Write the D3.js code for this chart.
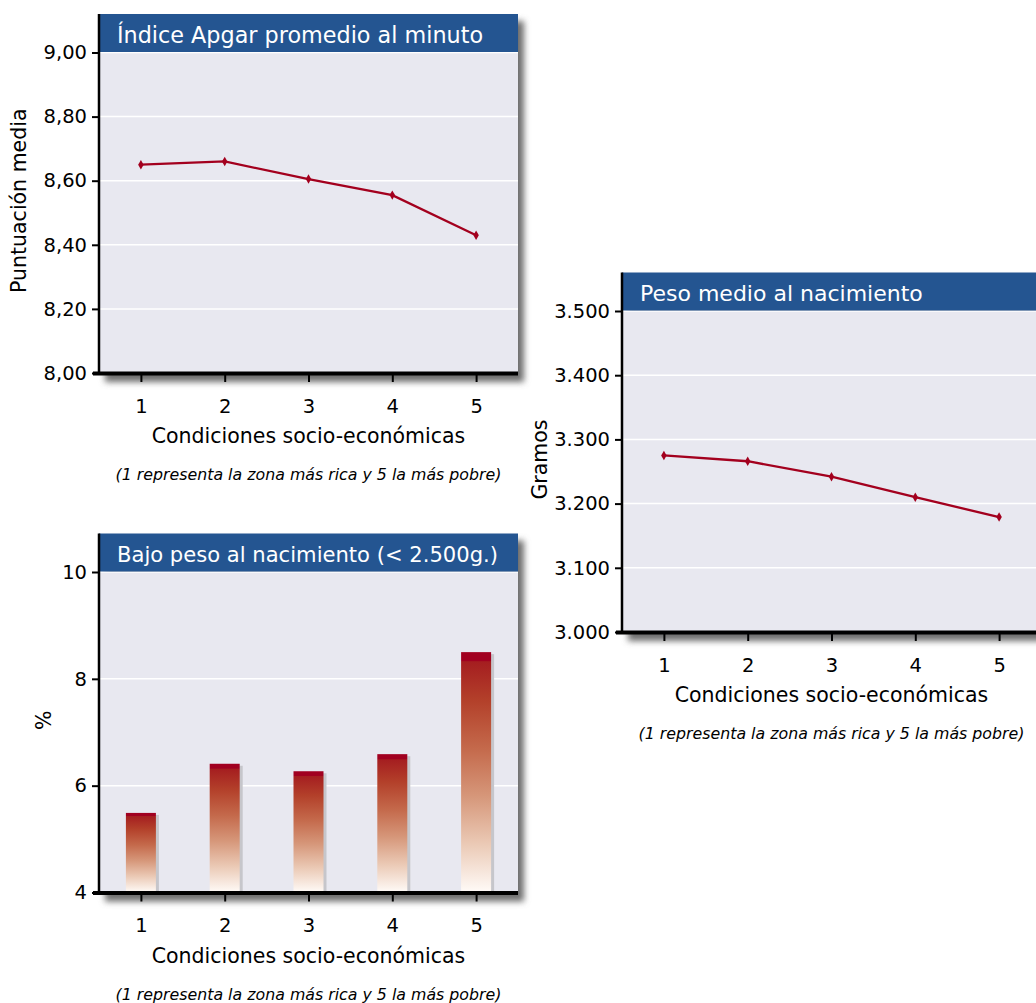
<!DOCTYPE html>
<html>
<head>
<meta charset="utf-8">
<script src="https://cdn.jsdelivr.net/npm/d3@7"></script>
<style>
  html, body { margin: 0; padding: 0; background: #ffffff; }
  svg { display: block; font-family: "DejaVu Sans", "Open Sans", sans-serif; }
</style>
</head>
<body>
<svg id="chart" width="1036" height="1003"></svg>
<script>
// Socio-economic zones (1 = richest, 5 = poorest)
const categories = [1, 2, 3, 4, 5];

// Apgar index at one minute (mean score)
const apgarValues = [8.65, 8.66, 8.605, 8.555, 8.43];
const apgarTicks = [8.0, 8.2, 8.4, 8.6, 8.8, 9.0];

// Mean birth weight (grams)
const weightValues = [3275, 3266, 3242, 3210, 3179];
const weightTicks = [3000, 3100, 3200, 3300, 3400, 3500];

// Low birth weight (< 2.500 g), percentage
const lowWeightValues = [5.49, 6.41, 6.27, 6.59, 8.5];
const lowWeightTicks = [4, 6, 8, 10];

const titles = ["Índice Apgar promedio al minuto", "Peso medio al nacimiento", "Bajo peso al nacimiento (< 2.500g.)"];
const yLabels = ["Puntuación media", "Gramos", "%"];
const xTitle = "Condiciones socio-económicas";
const xNote = "(1 representa la zona más rica y 5 la más pobre)";

const FONT = "DejaVu Sans, Open Sans, sans-serif";

const es = d3.formatLocale({ decimal: ",", thousands: ".", grouping: [3], currency: ["", " €"] });
const fmtDec = es.format(",.2f");
const fmtInt = es.format(",d");
const fmtPlain = es.format("d");

const svg = d3.select("#chart");
const defs = svg.append("defs");

defs.append("filter").attr("id", "panelShadow")
  .attr("x", "-10%").attr("y", "-10%").attr("width", "130%").attr("height", "130%")
  .append("feGaussianBlur").attr("stdDeviation", 3);

const grad = defs.append("linearGradient").attr("id", "barFill")
  .attr("x1", 0).attr("y1", 0).attr("x2", 0).attr("y2", 1);
[
  [0, "#a10020"], [0.035, "#a10020"], [0.04, "#a51e20"], [0.2, "#b3402a"],
  [0.4, "#c4694b"], [0.6, "#d6977a"], [0.8, "#ebcab6"], [1, "#fffbf8"]
].forEach(([o, c]) => grad.append("stop").attr("offset", o).attr("stop-color", c));

const BLUE = "#245591";
const PLOT_BG = "#e8e8f0";
const LINE_RED = "#a3001e";

function drawPanel(cfg) {
  const g = svg.append("g");
  const { left, right, top, bottom } = cfg;
  const headerTop = top - 38.5;

  const x = d3.scaleLinear().domain([0.5, 5.5]).range([left, right]);
  const y = d3.scaleLinear().domain(cfg.domain).range([bottom, top]);

  // drop shadow behind the whole panel
  g.append("rect")
    .attr("x", left + 6).attr("y", headerTop + 7)
    .attr("width", right - left).attr("height", bottom - headerTop + 2)
    .attr("fill", "#6e6e6e").attr("filter", "url(#panelShadow)");

  // plot background
  g.append("rect")
    .attr("x", left).attr("y", top)
    .attr("width", right - left).attr("height", bottom - top)
    .attr("fill", PLOT_BG);

  // horizontal grid
  g.append("g").selectAll("line")
    .data(cfg.ticks.filter(t => t !== cfg.domain[0]))
    .join("line")
    .attr("x1", left).attr("x2", right)
    .attr("y1", d => y(d)).attr("y2", d => y(d))
    .attr("stroke", "#ffffff").attr("stroke-width", 1.5);

  // title header
  g.append("rect")
    .attr("x", left).attr("y", headerTop)
    .attr("width", right - left).attr("height", top - headerTop - 0.5)
    .attr("fill", BLUE);
  g.append("text")
    .attr("x", left + 18).attr("y", top - 10)
    .attr("fill", "#ffffff").attr("font-size", cfg.titleSize)
    .text(cfg.title);

  // marks
  if (cfg.type === "line") {
    const pts = categories.map((c, i) => [c, cfg.values[i]]);
    g.append("path")
      .datum(pts)
      .attr("fill", "none").attr("stroke", LINE_RED).attr("stroke-width", 2.3)
      .attr("d", d3.line().x(d => x(d[0])).y(d => y(d[1])));
    g.append("g").selectAll("path")
      .data(pts).join("path")
      .attr("transform", d => `translate(${x(d[0])},${y(d[1])})`)
      .attr("d", d3.symbol(d3.symbolDiamond, 26))
      .attr("fill", LINE_RED);
  } else {
    const bw = 30;
    const bars = g.append("g").selectAll("g")
      .data(categories.map((c, i) => [c, cfg.values[i]])).join("g");
    bars.append("rect")
      .attr("x", d => x(d[0]) - bw / 2 + 3).attr("y", d => y(d[1]) + 2)
      .attr("width", bw).attr("height", d => bottom - y(d[1]) - 2)
      .attr("fill", "#c6c6cb");
    bars.append("rect")
      .attr("x", d => x(d[0]) - bw / 2).attr("y", d => y(d[1]))
      .attr("width", bw).attr("height", d => bottom - y(d[1]))
      .attr("fill", "url(#barFill)");
  }

  // y axis
  const yAxis = d3.axisLeft(y).tickValues(cfg.ticks).tickFormat(cfg.format)
    .tickSizeInner(7).tickSizeOuter(0).tickPadding(5);
  const ya = g.append("g").attr("transform", `translate(${left},0)`).call(yAxis);
  ya.select(".domain").remove();
  ya.selectAll(".tick line").attr("stroke", "#000").attr("stroke-width", 2);
  ya.selectAll(".tick text").attr("font-size", 19.5).attr("fill", "#000")
    .attr("font-family", FONT);
  g.append("line")
    .attr("x1", left).attr("x2", left)
    .attr("y1", headerTop).attr("y2", bottom)
    .attr("stroke", "#000").attr("stroke-width", 2.5);

  // x axis
  const xAxis = d3.axisBottom(x).tickValues(categories).tickFormat(fmtPlain)
    .tickSizeInner(9).tickSizeOuter(0).tickPadding(17);
  const xa = g.append("g").attr("transform", `translate(0,${bottom})`).call(xAxis);
  xa.select(".domain").remove();
  xa.selectAll(".tick line").attr("stroke", "#000").attr("stroke-width", 2);
  xa.selectAll(".tick text").attr("font-size", 19.5).attr("fill", "#000")
    .attr("font-family", FONT);
  g.append("line")
    .attr("x1", left - 6).attr("x2", right)
    .attr("y1", bottom + 0.5).attr("y2", bottom + 0.5)
    .attr("stroke", "#000").attr("stroke-width", 4);

  // axis titles
  const cx = (left + right) / 2;
  g.append("text")
    .attr("x", cx).attr("y", bottom + 70)
    .attr("text-anchor", "middle").attr("font-size", 20.5).attr("fill", "#000")
    .text(xTitle);
  g.append("text")
    .attr("x", cx).attr("y", bottom + 107)
    .attr("text-anchor", "middle").attr("font-size", 15.8).attr("font-style", "italic")
    .attr("fill", "#000")
    .text(xNote);
  g.append("text")
    .attr("transform", `translate(${left - cfg.yLabelOffset},${(top + bottom) / 2 - 12}) rotate(-90)`)
    .attr("dy", "0.35em")
    .attr("text-anchor", "middle").attr("font-size", 20.5).attr("fill", "#000")
    .text(cfg.yLabel);
}

drawPanel({
  left: 99, right: 518, top: 52.5, bottom: 373,
  domain: [8.0, 9.0], ticks: apgarTicks, format: fmtDec,
  title: titles[0], titleSize: 22.3, yLabel: yLabels[0], yLabelOffset: 80,
  type: "line", values: apgarValues
});

drawPanel({
  left: 622, right: 1041, top: 311, bottom: 632,
  domain: [3000, 3500], ticks: weightTicks, format: fmtInt,
  title: titles[1], titleSize: 22, yLabel: yLabels[1], yLabelOffset: 82,
  type: "line", values: weightValues
});

drawPanel({
  left: 99, right: 518, top: 572, bottom: 892.5,
  domain: [4, 10], ticks: lowWeightTicks, format: fmtPlain,
  title: titles[2], titleSize: 21.1, yLabel: yLabels[2], yLabelOffset: 55,
  type: "bar", values: lowWeightValues
});
</script>
</body>
</html>
